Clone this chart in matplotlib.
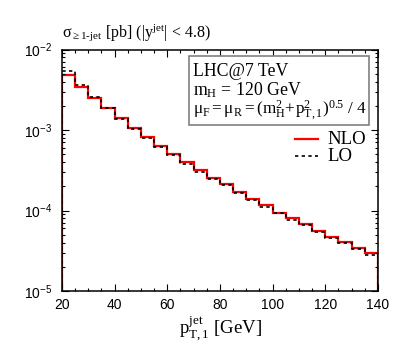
import numpy as np
import matplotlib
matplotlib.use("Agg")
import matplotlib.pyplot as plt
import matplotlib.patches as patches
from matplotlib.ticker import FixedLocator, FuncFormatter, LogLocator, MultipleLocator

plt.rcParams["mathtext.fontset"] = "custom"
plt.rcParams["mathtext.rm"] = "Liberation Serif"
plt.rcParams["mathtext.it"] = "Liberation Serif:italic"
plt.rcParams["mathtext.sf"] = "Liberation Sans"

# bin edges in pT (GeV), 5 GeV bins
edges = np.arange(20, 141, 5)

# sigma per bin [pb]
nlo = [4.82e-3, 3.45e-3, 2.52e-3, 1.86e-3, 1.40e-3, 1.05e-3, 8.11e-4, 6.32e-4,
       5.03e-4, 3.97e-4, 3.19e-4, 2.51e-4, 2.13e-4, 1.71e-4, 1.40e-4, 1.17e-4,
       9.39e-5, 8.00e-5, 6.80e-5, 5.56e-5, 4.73e-5, 4.03e-5, 3.39e-5, 2.96e-5]
lo = [5.41e-3, 3.62e-3, 2.59e-3, 1.88e-3, 1.36e-3, 1.04e-3, 7.96e-4, 6.10e-4,
      4.89e-4, 3.81e-4, 3.03e-4, 2.46e-4, 2.07e-4, 1.66e-4, 1.34e-4, 1.12e-4,
      9.23e-5, 7.69e-5, 6.61e-5, 5.36e-5, 4.59e-5, 3.92e-5, 3.30e-5, 2.77e-5]

serif = "Liberation Serif"

fig = plt.figure(figsize=(4.09, 3.63), dpi=100)
ax = fig.add_axes([0.1516, 0.1983, 0.7725, 0.6653])

ax.stairs(nlo, edges, baseline=1e-7, color="red", lw=1.6, label="NLO")
ax.stairs(lo, edges, baseline=1e-7, color="black", lw=1.2, linestyle=(0, (2, 2)), label="LO")

ax.set_yscale("log")
ax.set_xlim(20, 140)
ax.set_ylim(1e-5, 1e-2)

ax.xaxis.set_major_locator(MultipleLocator(20))
ax.xaxis.set_minor_locator(MultipleLocator(5))
ax.yaxis.set_major_locator(FixedLocator([1e-5, 1e-4, 1e-3, 1e-2]))
ax.yaxis.set_minor_locator(LogLocator(base=10, subs=np.arange(2, 10)))
ax.yaxis.set_major_formatter(FuncFormatter(lambda v, p: r"$\mathsf{10^{%d}}$" % round(np.log10(v))))
ax.tick_params(which="both", direction="in", top=True, right=True, width=0.8)
ax.tick_params(which="major", length=5, labelsize=10)
ax.tick_params(which="minor", length=2.5)
ax.tick_params(axis="x", pad=5)
ax.tick_params(axis="y", pad=7)
for lab in ax.get_xticklabels():
    lab.set_fontfamily("Liberation Sans")
for s in ax.spines.values():
    s.set_linewidth(1.1)

ax.set_xlabel(r"$\mathrm{p_{T,1}^{jet}}$ [GeV]", fontfamily=serif, fontsize=13.5, labelpad=1)

fig.text(62 / 409, 1 - 37 / 363,
         r"$\mathrm{\sigma_{{\geq}1\text{-}jet}}$ [pb] (|y$^{\mathrm{jet}}$| < 4.8)",
         fontfamily=serif, fontsize=11.5, va="baseline", ha="left")

# info box
box = patches.Rectangle((0.402, 0.687), 0.569, 0.287, transform=ax.transAxes,
                        facecolor="white", edgecolor="gray", lw=1.2, zorder=3)
ax.add_patch(box)
ax.text(0.415, 0.892, "LHC@7 TeV", transform=ax.transAxes, fontfamily=serif,
        fontsize=12.8, va="baseline", zorder=4)
ax.text(0.415, 0.812, r"m$_\mathrm{H}$ = 120 GeV", transform=ax.transAxes, fontfamily=serif,
        fontsize=12.8, va="baseline", zorder=4)
ax.text(0.415, 0.732,
        r"$\mathrm{\mu_F = \mu_R = (m_H^2\!+\!p_{T,1}^2)^{0.5}\ /\ 4}$",
        transform=ax.transAxes, fontfamily=serif, fontsize=12.3, va="baseline", zorder=4)

# legend drawn by hand
ax.plot([0.737, 0.810], [0.629, 0.629], transform=ax.transAxes, color="red", lw=1.6)
ax.plot([0.737, 0.810], [0.559, 0.559], transform=ax.transAxes, color="black", lw=1.2,
        linestyle=(0, (2, 2)))
ax.text(0.840, 0.629, "NLO", transform=ax.transAxes, fontfamily=serif, fontsize=13.5, va="center")
ax.text(0.840, 0.559, "LO", transform=ax.transAxes, fontfamily=serif, fontsize=13.5, va="center")

fig.savefig("out.png", dpi=100)
